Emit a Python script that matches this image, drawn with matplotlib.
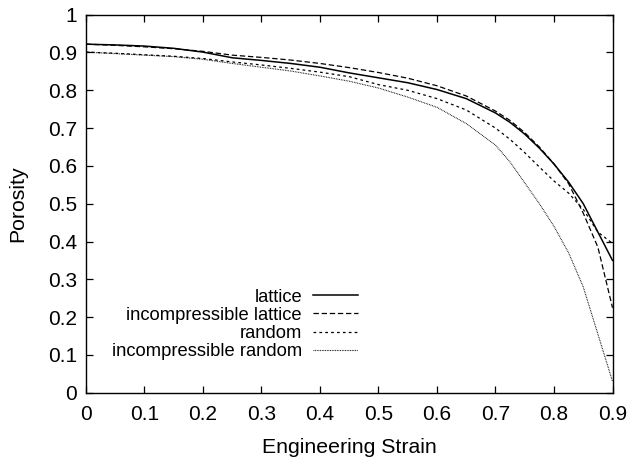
import numpy as np
import matplotlib
matplotlib.use('Agg')
from matplotlib import pyplot as plt

# porosity vs engineering strain
strain = [0.0, 0.05, 0.1, 0.15, 0.2, 0.25, 0.3, 0.35, 0.4, 0.45, 0.5, 0.55,
          0.6, 0.65, 0.7, 0.725, 0.75, 0.775, 0.8, 0.825, 0.85, 0.875, 0.9]
lattice = [0.922, 0.920, 0.917, 0.911, 0.901, 0.886, 0.879, 0.871, 0.861, 0.846, 0.833, 0.820,
           0.802, 0.778, 0.740, 0.715, 0.684, 0.647, 0.605, 0.557, 0.500, 0.425, 0.350]
incomp_lattice = [0.922, 0.919, 0.915, 0.910, 0.903, 0.893, 0.887, 0.880, 0.871, 0.860, 0.847, 0.832,
                  0.812, 0.785, 0.745, 0.720, 0.688, 0.650, 0.605, 0.553, 0.475, 0.385, 0.225]
random_ = [0.901, 0.898, 0.894, 0.890, 0.884, 0.875, 0.867, 0.858, 0.848, 0.836, 0.815, 0.800,
           0.778, 0.748, 0.700, 0.670, 0.635, 0.597, 0.560, 0.528, 0.485, 0.425, 0.395]
incomp_random = [0.901, 0.897, 0.893, 0.889, 0.882, 0.871, 0.861, 0.851, 0.838, 0.824, 0.806, 0.782,
                 0.755, 0.712, 0.655, 0.610, 0.555, 0.500, 0.440, 0.370, 0.280, 0.155, 0.030]

labels = ['lattice', 'incompressible lattice', 'random', 'incompressible random']
xticks = [0, 0.1, 0.2, 0.3, 0.4, 0.5, 0.6, 0.7, 0.8, 0.9]
yticks = [0, 0.1, 0.2, 0.3, 0.4, 0.5, 0.6, 0.7, 0.8, 0.9, 1]

plt.rcParams['font.family'] = ['Liberation Sans', 'DejaVu Sans']

fig = plt.figure(figsize=(6.34, 4.59), dpi=100)
ax = fig.add_axes([0.1356, 0.1444, 0.8305, 0.8236])

ax.plot(strain, lattice, color='black', lw=1.1, label=labels[0])
ax.plot(strain, incomp_lattice, color='black', lw=0.9, dashes=(4.3, 2.2), label=labels[1])
ax.plot(strain, random_, color='black', lw=0.9, dashes=(2.2, 2.5), label=labels[2])
ax.plot(strain, incomp_random, color='black', lw=0.8, dashes=(0.7, 0.8), label=labels[3])

ax.set_xlim(0, 0.9)
ax.set_ylim(0, 1)
ax.set_xticks(xticks)
ax.set_yticks(yticks)
ax.set_xticklabels([('%g' % t) for t in xticks])
ax.set_yticklabels([('%g' % t) for t in yticks])
ax.tick_params(direction='in', length=5, width=0.9, top=True, right=True,
               labelsize=15)
ax.tick_params(axis='x', pad=9)
ax.tick_params(axis='y', pad=6.5)
for sp in ax.spines.values():
    sp.set_linewidth(1.0)

ax.set_xlabel('Engineering Strain', fontsize=15.3, labelpad=10)
ax.set_ylabel('Porosity', fontsize=15.3, labelpad=15)

ax.legend(loc='lower right', bbox_to_anchor=(0.534, 0.062), frameon=False,
          markerfirst=False, fontsize=13.2, handlelength=2.45, labelspacing=0.06,
          handletextpad=0.6, borderpad=0)

fig.savefig('out.png', dpi=100)
